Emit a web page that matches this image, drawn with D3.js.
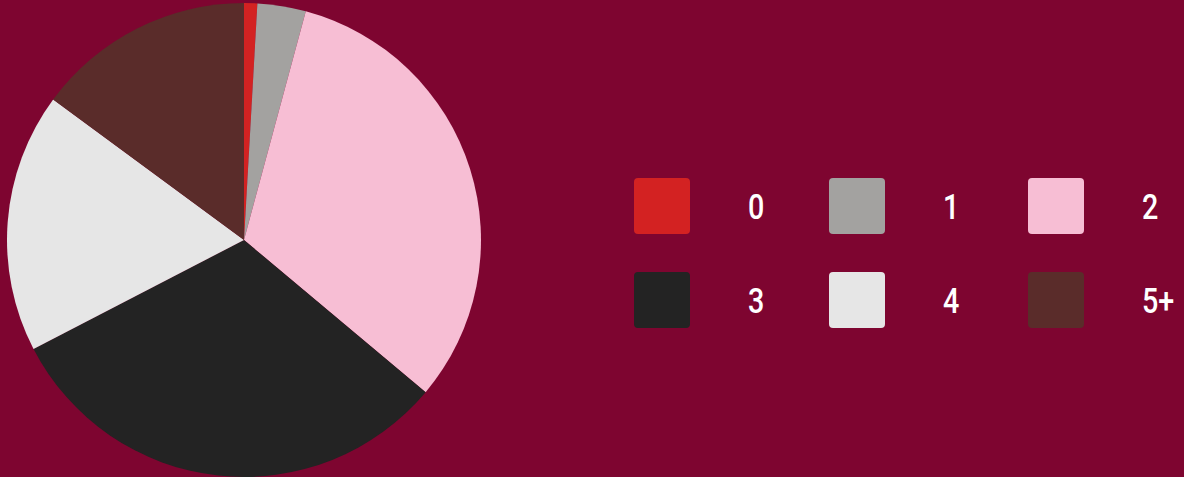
<!DOCTYPE html>
<html>
<head>
<meta charset="utf-8">
<script src="https://cdn.jsdelivr.net/npm/d3@7"></script>
<style>
  html, body { margin: 0; padding: 0; background: #7E0530; }
  svg { display: block; }
</style>
</head>
<body>
<svg id="chart"></svg>
<script>
let categories = ["0", "1", "2", "3", "4", "5+"];
let values = [0.9, 3.3, 31.9, 31.3, 17.7, 14.9];
let colors = ["#D32222", "#A3A2A0", "#F7BED4", "#232323", "#E6E6E6", "#5A2C2A"];

let width = 1184;
let height = 477;
let radius = 237;
let center = ({x: 244, y: 240});

const svg = d3.select('#chart').attr('width', width).attr('height', height);

svg.append('rect')
  .attr('width', width).attr('height', height)
  .attr('fill', '#7E0530');

let data = categories.map((c, i) => ({name: c, value: values[i]}));

let color = d3.scaleOrdinal()
  .domain(categories)
  .range(colors);

let pie = d3.pie()
  .sort(null)
  .value(d => d.value);

let arc = d3.arc()
  .innerRadius(0)
  .outerRadius(radius);

svg.append('g')
  .attr('transform', `translate(${center.x},${center.y})`)
  .selectAll('path')
  .data(pie(data))
  .join('path')
  .attr('d', arc)
  .attr('fill', d => color(d.data.name));

// legend: 3 columns, 2 rows
let legendX = d3.scaleLinear().domain([0, 1, 2]).range([634, 829, 1028]);
let legendY = d3.scaleLinear().domain([0, 1]).range([178, 272]);
let box = 56;

const legend = svg.append('g')
  .selectAll('g')
  .data(data)
  .join('g')
  .attr('transform', (d, i) => `translate(${legendX(i % 3)},${legendY(Math.floor(i / 3))})`);

legend.append('rect')
  .attr('width', box)
  .attr('height', box)
  .attr('rx', 4)
  .attr('fill', d => color(d.name));

// narrow the text a bit, the original font is a condensed one
legend.append('text')
  .attr('transform', `translate(114,${box / 2 + 12.5}) scale(0.82,1)`)
  .attr('fill', '#ffffff')
  .attr('font-family', 'Roboto, sans-serif')
  .attr('font-weight', 500)
  .attr('font-size', 35)
  .text(d => d.name);
</script>
</body>
</html>
